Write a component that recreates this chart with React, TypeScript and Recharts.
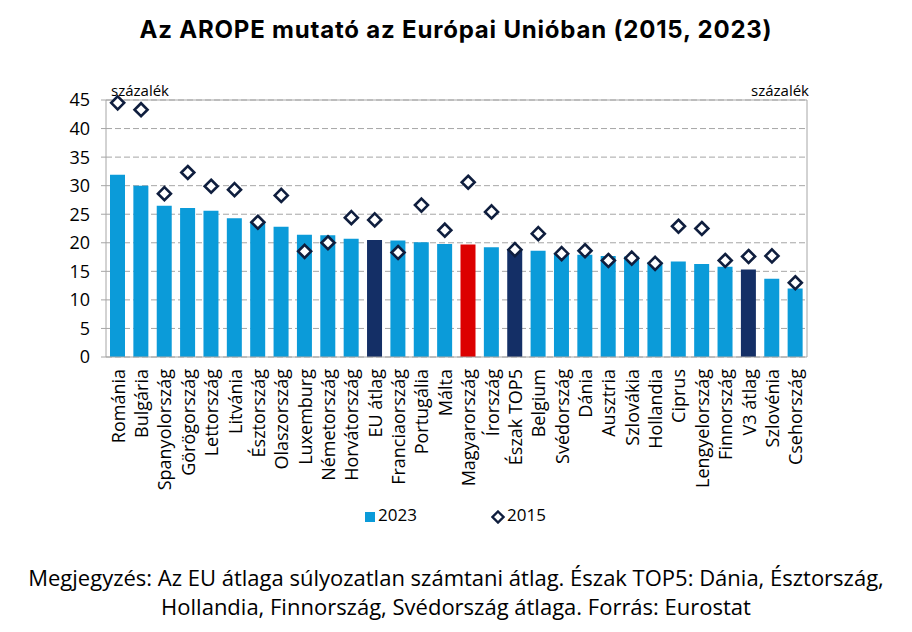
import { ComposedChart, Bar, Line, XAxis, YAxis, CartesianGrid, Cell, ReferenceLine } from "recharts";

const countries = [
  "Románia", "Bulgária", "Spanyolország", "Görögország", "Lettország", "Litvánia",
  "Észtország", "Olaszország", "Luxemburg", "Németország", "Horvátország", "EU átlag",
  "Franciaország", "Portugália", "Málta", "Magyarország", "Írország", "Észak TOP5",
  "Belgium", "Svédország", "Dánia", "Ausztria", "Szlovákia", "Hollandia",
  "Ciprus", "Lengyelország", "Finnország", "V3 átlag", "Szlovénia", "Csehország",
];

const arope2023 = [
  31.9, 30.0, 26.5, 26.1, 25.6, 24.3,
  23.7, 22.8, 21.4, 21.3, 20.7, 20.5,
  20.4, 20.1, 19.8, 19.7, 19.2, 18.9,
  18.6, 18.1, 17.9, 17.7, 17.6, 16.6,
  16.7, 16.3, 15.8, 15.3, 13.7, 12.0,
];

const arope2015 = [
  44.5, 43.3, 28.6, 32.3, 29.9, 29.3,
  23.6, 28.3, 18.5, 20.0, 24.4, 24.0,
  18.3, 26.6, 22.2, 30.6, 25.4, 18.8,
  21.6, 18.1, 18.6, 16.9, 17.3, 16.4,
  22.9, 22.5, 16.9, 17.6, 17.7, 13.0,
];

const yTicks = [0, 5, 10, 15, 20, 25, 30, 35, 40, 45];

const averages = ["EU átlag", "Észak TOP5", "V3 átlag"];
const highlighted = "Magyarország";

const data = countries.map((name, i) => ({ name, y2023: arope2023[i], y2015: arope2015[i] }));

const FONT = "'Open Sans', 'Noto Sans', sans-serif";
const BLUE = "#0b9bd9";
const NAVY = "#142f66";
const RED = "#dc0000";
const DIAMOND = "#0f1e3e";
const GRID = "#a6a6a6";

function barColor(name: string) {
  if (name === highlighted) return RED;
  if (averages.includes(name)) return NAVY;
  return BLUE;
}

function DiamondDot(props: any) {
  const { cx, cy, index } = props;
  if (cx == null || cy == null) return null;
  const r = 6.5;
  return (
    <path
      key={`d-${index}`}
      d={`M${cx},${cy - r}L${cx + r},${cy}L${cx},${cy + r}L${cx - r},${cy}Z`}
      fill="#fff"
      stroke={DIAMOND}
      strokeWidth={2.6}
    />
  );
}

function CountryTick(props: any) {
  const { x, y, payload } = props;
  return (
    <text
      x={x}
      y={y}
      transform={`rotate(-90, ${x}, ${y})`}
      textAnchor="end"
      dominantBaseline="central"
      fontFamily={FONT}
      fontSize={18}
      fill="#000"
    >
      {payload.value}
    </text>
  );
}

export default function App() {
  return (
    <div style={{ position: "absolute", left: 0, top: 0, width: 912, height: 632, background: "#fff", fontFamily: FONT }}>
      <div
        style={{
          position: "absolute", top: 15, left: 0, width: 912, textAlign: "center",
          fontFamily: "Inter, 'Liberation Sans', sans-serif", fontWeight: 700, fontSize: 24,
          letterSpacing: 0.8, color: "#000",
        }}
      >
        Az AROPE mutató az Európai Unióban (2015, 2023)
      </div>

      <div style={{ position: "absolute", top: 80, left: 111, fontSize: 15, color: "#000" }}>százalék</div>
      <div style={{ position: "absolute", top: 80, right: 912 - 809, fontSize: 15, color: "#000" }}>százalék</div>

      <div style={{ position: "absolute", top: 0, left: 0 }}>
        <ComposedChart
          width={912}
          height={497}
          data={data}
          margin={{ top: 100, right: 55, bottom: 0, left: 56 }}
        >
          <CartesianGrid vertical={false} stroke={GRID} strokeDasharray="6 3" yAxisId="left" />
          <XAxis
            dataKey="name"
            interval={0}
            height={140}
            tick={<CountryTick />}
            tickLine={false}
            axisLine={{ stroke: GRID }}
            tickMargin={6}
          />
          <YAxis
            yAxisId="left"
            domain={[0, 45]}
            ticks={yTicks}
            width={50}
            axisLine={{ stroke: GRID }}
            tickLine={{ stroke: GRID }}
            tickSize={5}
            tickMargin={11}
            tick={{ fontFamily: FONT, fontSize: 18, fill: "#000" }}
          />
          <YAxis
            yAxisId="right"
            orientation="right"
            domain={[0, 45]}
            ticks={yTicks}
            width={50}
            axisLine={{ stroke: GRID }}
            tickLine={{ stroke: GRID }}
            tickSize={5}
            tickMargin={11}
            tick={{ fontFamily: FONT, fontSize: 18, fill: "#000", textAnchor: "start" }}
          />
          <ReferenceLine yAxisId="left" y={45} stroke={GRID} />
          <Bar yAxisId="left" dataKey="y2023" barSize={15} isAnimationActive={false}>
            {data.map((d) => (
              <Cell key={d.name} fill={barColor(d.name)} />
            ))}
          </Bar>
          <Line
            yAxisId="left"
            dataKey="y2015"
            stroke="none"
            dot={<DiamondDot />}
            activeDot={false}
            isAnimationActive={false}
          />
        </ComposedChart>
      </div>

      {/* legend */}
      <div style={{ position: "absolute", top: 502, left: 0, width: 912, height: 24, fontSize: 17, color: "#000" }}>
        <div style={{ position: "absolute", left: 365, top: 10, width: 10, height: 10, background: BLUE }} />
        <div style={{ position: "absolute", left: 378, top: 1 }}>2023</div>
        <svg style={{ position: "absolute", left: 491, top: 8 }} width={14} height={14}>
          <path d="M7,1.5L12.5,7L7,12.5L1.5,7Z" fill="#fff" stroke={DIAMOND} strokeWidth={2.4} />
        </svg>
        <div style={{ position: "absolute", left: 507, top: 1 }}>2015</div>
      </div>

      <div
        style={{
          position: "absolute", top: 563, left: 0, width: 912, textAlign: "center",
          fontSize: 22, lineHeight: "29px", color: "#000",
        }}
      >
        Megjegyzés: Az EU átlaga súlyozatlan számtani átlag. Észak TOP5: Dánia, Észtország,
        <br />
        Hollandia, Finnország, Svédország átlaga. Forrás: Eurostat
      </div>
    </div>
  );
}
